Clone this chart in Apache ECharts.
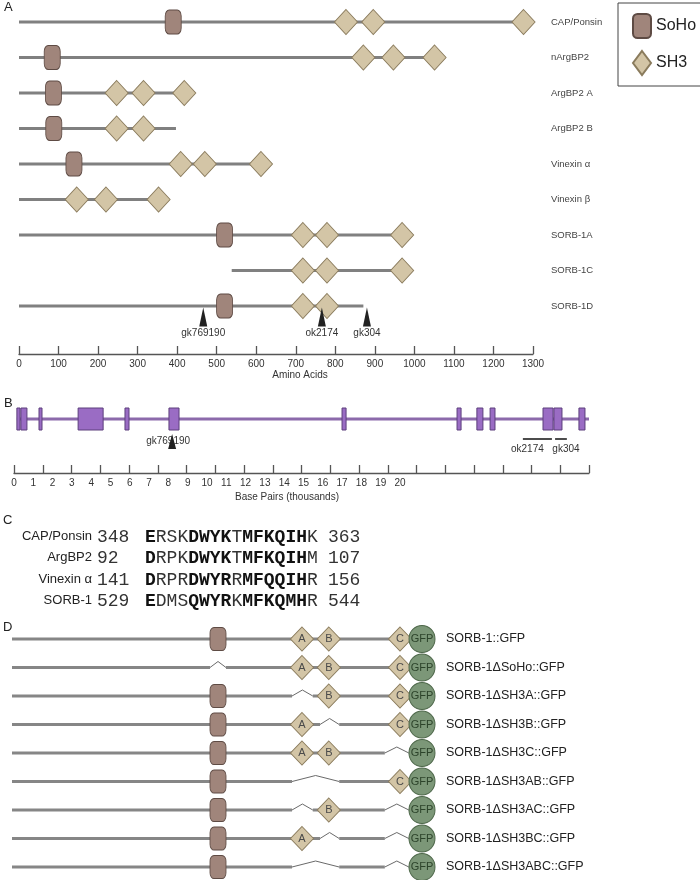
<!DOCTYPE html>
<html><head><meta charset="utf-8">
<script src="https://cdn.jsdelivr.net/npm/echarts@6/dist/echarts.min.js"></script>
<style>html,body{margin:0;padding:0;background:#fff}#c{width:700px;height:880px}</style>
</head><body><div id="c"></div>
<script>
// ---------- Panel A data (amino acids) ----------
const proteins = ['CAP/Ponsin','nArgBP2','ArgBP2 A','ArgBP2 B','Vinexin α','Vinexin β','SORB-1A','SORB-1C','SORB-1D'];
const proteinStart = [0, 0, 0, 0, 0, 0, 0, 538, 0];
const proteinEnd   = [1276, 1051, 418, 397, 612, 353, 980, 980, 871];
const sohoPos = [390, 84, 87, 88, 139, null, 520, null, 520];
const sh3Pos = [[827, 896, 1276], [871, 947, 1051], [247, 315, 418], [247, 315], [409, 470, 612], [146, 220, 353], [718, 779, 969], [718, 779, 969], [718, 779]];
const alleleNamesA = ['gk769190', 'ok2174', 'gk304'];
const alleleAA = [466, 766, 880];
const alleleRowA = 8;

// ---------- Panel B data (kb) ----------
const geneStart = 0.1, geneEnd = 20;
const exonStart = [0.10, 0.24, 0.87, 2.23, 3.86, 5.39, 11.41, 15.41, 16.10, 16.56, 18.40, 18.78, 19.65];
const exonEnd   = [0.21, 0.45, 0.97, 3.10, 4.00, 5.74, 11.55, 15.55, 16.31, 16.73, 18.75, 19.06, 19.86];
const kbTickMax = 20;
const kbLabelMax = 20;
const delNames = ['ok2174', 'gk304'];
const delStart = [17.70, 18.82];
const delEnd   = [18.71, 19.23];
const pointAlleleName = 'gk769190';
const pointAlleleKb = 5.5;

// ---------- Panel C data ----------
const cNames = ['CAP/Ponsin', 'ArgBP2', 'Vinexin α', 'SORB-1'];
const cFrom = ['348', '92', '141', '529'];
const cSeq = ['ERSKDWYKTMFKQIHK', 'DRPKDWYKTMFKQIHM', 'DRPRDWYRRMFQQIHR', 'EDMSQWYRKMFKQMHR'];
const cBold = ['1000111101111110', '1000111101111110', '1000111101111110', '1000111101111110'];
const cTo = ['363', '107', '156', '544'];

// ---------- Panel D data ----------
const dNames = ['SORB-1::GFP', 'SORB-1ΔSoHo::GFP', 'SORB-1ΔSH3A::GFP', 'SORB-1ΔSH3B::GFP', 'SORB-1ΔSH3C::GFP', 'SORB-1ΔSH3AB::GFP', 'SORB-1ΔSH3AC::GFP', 'SORB-1ΔSH3BC::GFP', 'SORB-1ΔSH3ABC::GFP'];
const dHasSoHo = [1, 0, 1, 1, 1, 1, 1, 1, 1];
const dHasA    = [1, 1, 0, 1, 1, 0, 0, 1, 0];
const dHasB    = [1, 1, 1, 0, 1, 0, 1, 0, 0];
const dHasC    = [1, 1, 1, 1, 0, 1, 0, 0, 0];
const dDomainX = [515, 725, 792, 970];      // SoHo, A, B, C
const dSpanStart = [495, 700, 770, 932];
const dSpanEnd   = [535, 752, 818, 992];
const dGfpX = 1025;
const dSH3Letters = ['A', 'B', 'C'];

// ---------- styling ----------
const SANS = '"Liberation Sans", Arial, sans-serif';
const MONO = '"Liberation Mono", "Courier New", monospace';
const SOHO_FILL = '#a0857b', SOHO_STROKE = '#5e4b44';
const SH3_FILL = '#d3c5a6', SH3_STROKE = '#8a7b5c';
const GFP_FILL = '#7c9778', GFP_STROKE = '#4d6749';
const PROT_LINE = '#808080';
const delLabelDx = [-10, 5];

const chart = echarts.init(document.getElementById('c'), null, {renderer: 'canvas', width: 700, height: 880});

function lineSeg(a, b, color, w) {
  return {type: 'line', shape: {x1: a[0], y1: a[1], x2: b[0], y2: b[1]}, style: {stroke: color, lineWidth: w}};
}

// Panel letters and panel C (alignment text)
const graphics = [];
const letterPos = [['A', 4, 1], ['B', 4, 397], ['C', 3, 514], ['D', 3, 621]];
letterPos.forEach(l => graphics.push({type: 'text', x: l[1], y: l[2], style: {text: l[0], fontSize: 13, fontFamily: SANS, fill: '#222'}}));
const cY0 = 536, cGap = 21.5;
function seqRich(seq, mask) {
  let out = '', i = 0;
  while (i < seq.length) {
    const b = mask[i]; let j = i;
    while (j < seq.length && mask[j] === b) j++;
    out += '{' + (b === '1' ? 'b' : 'n') + '|' + seq.slice(i, j) + '}';
    i = j;
  }
  return out;
}
cNames.forEach((n, i) => {
  const y = cY0 + i * cGap;
  graphics.push({type: 'text', x: 92, y: y, style: {text: n, align: 'right', verticalAlign: 'middle', fontSize: 13, fontFamily: SANS, fill: '#222'}});
  graphics.push({type: 'text', x: 97, y: y + 1, style: {text: cFrom[i], align: 'left', verticalAlign: 'middle', fontSize: 18, fontFamily: MONO, fill: '#333'}});
  graphics.push({type: 'text', x: 145, y: y + 1, style: {text: seqRich(cSeq[i], cBold[i]), align: 'left', verticalAlign: 'middle',
    rich: {b: {fontSize: 18, fontFamily: MONO, fontWeight: 'bold', fill: '#111', color: '#111'},
           n: {fontSize: 18, fontFamily: MONO, fill: '#333', color: '#333'}}}});
  graphics.push({type: 'text', x: 328, y: y + 1, style: {text: cTo[i], align: 'left', verticalAlign: 'middle', fontSize: 18, fontFamily: MONO, fill: '#333'}});
});

const noHover = {disabled: true};
const plain = v => String(v);

const option = {
  animation: false,
  backgroundColor: '#fff',
  textStyle: {fontFamily: SANS},
  legend: {
    data: ['SoHo', 'SH3'], orient: 'vertical', left: 618, top: 3,
    padding: [10, 40, 10, 14], itemWidth: 18, itemHeight: 24, itemGap: 11,
    borderColor: '#444', borderWidth: 1, selectedMode: false,
    textStyle: {fontSize: 16, color: '#222', fontFamily: SANS}
  },
  grid: [
    {left: 19, width: 514, top: 22, height: 284, outerBoundsMode: 'none'},
    {left: 14, width: 575, top: 399, height: 40, outerBoundsMode: 'none'},
    {left: 14, width: 386, top: 399, height: 40, outerBoundsMode: 'none'},
    {left: 12, width: 432, top: 639, height: 228, outerBoundsMode: 'none'}
  ],
  xAxis: [
    {gridIndex: 0, type: 'value', min: 0, max: 1300, interval: 100, offset: 48,
     axisLine: {show: true, onZero: false, lineStyle: {color: '#555', width: 1.3}},
     axisTick: {show: true, inside: true, length: 8, lineStyle: {color: '#555', width: 1.3}},
     axisLabel: {fontSize: 10, color: '#333', margin: 5, fontFamily: SANS, formatter: plain}, splitLine: {show: false},
     name: 'Amino Acids', nameLocation: 'middle', nameGap: 15,
     nameTextStyle: {fontSize: 10, color: '#333', padding: [0, 0, 0, 48], fontFamily: SANS}},
    {gridIndex: 1, type: 'value', min: 0, max: kbTickMax, interval: 1, offset: 34,
     axisLine: {show: true, onZero: false, lineStyle: {color: '#555', width: 1.3}},
     axisTick: {show: true, inside: true, length: 8, lineStyle: {color: '#555', width: 1.3}},
     axisLabel: {show: false}, splitLine: {show: false},
     name: 'Base Pairs (thousands)', nameLocation: 'middle', nameGap: 19,
     nameTextStyle: {fontSize: 10, color: '#333', padding: [0, 29, 0, 0], fontFamily: SANS}},
    {gridIndex: 2, type: 'value', min: 0, max: kbLabelMax, interval: 1, offset: 34,
     axisLine: {show: false, onZero: false}, axisTick: {show: false}, splitLine: {show: false},
     axisLabel: {fontSize: 10, color: '#333', margin: 5, fontFamily: SANS, formatter: plain}},
    {gridIndex: 3, type: 'value', min: 0, max: 1080, show: false, splitLine: {show: false}}
  ],
  yAxis: [
    {gridIndex: 0, type: 'category', data: proteins, inverse: true, boundaryGap: false, position: 'right',
     axisLine: {show: false}, axisTick: {show: false}, splitLine: {show: false},
     axisLabel: {margin: 18, fontSize: 9.5, color: '#444', fontFamily: SANS}},
    {gridIndex: 1, type: 'value', min: -1, max: 1, show: false},
    {gridIndex: 2, type: 'value', min: -1, max: 1, show: false},
    {gridIndex: 3, type: 'category', data: dNames, inverse: true, boundaryGap: false, position: 'right',
     axisLine: {show: false}, axisTick: {show: false}, splitLine: {show: false},
     axisLabel: {margin: 2, fontSize: 12.5, color: '#222', fontFamily: SANS}}
  ],
  graphic: graphics,
  series: [
    // ---- Panel A ----
    {type: 'custom', name: 'protLine', xAxisIndex: 0, yAxisIndex: 0, z: 1, silent: true, emphasis: noHover,
     encode: {x: [0, 1], y: 2},
     data: proteins.map((p, i) => [proteinStart[i], proteinEnd[i], i]),
     renderItem: (params, api) => {
       const a = api.coord([api.value(0), api.value(2)]);
       const b = api.coord([api.value(1), api.value(2)]);
       return lineSeg(a, b, PROT_LINE, 3);
     }},
    {type: 'scatter', name: 'SoHo', xAxisIndex: 0, yAxisIndex: 0, z: 3, symbol: 'roundRect', symbolSize: [16, 24],
     emphasis: noHover, itemStyle: {color: SOHO_FILL, borderColor: SOHO_STROKE, borderWidth: 1, opacity: 1},
     data: sohoPos.map((x, i) => x == null ? null : [x, i]).filter(d => d)},
    {type: 'scatter', name: 'SH3', xAxisIndex: 0, yAxisIndex: 0, z: 3, symbol: 'diamond', symbolSize: [23, 25],
     emphasis: noHover, itemStyle: {color: SH3_FILL, borderColor: SH3_STROKE, borderWidth: 1, opacity: 1},
     data: sh3Pos.flatMap((arr, i) => arr.map(x => [x, i]))},
    {type: 'scatter', name: 'alleleA', xAxisIndex: 0, yAxisIndex: 0, z: 3, symbol: 'triangle', symbolSize: [8, 19],
     symbolOffset: [0, 11], emphasis: noHover, itemStyle: {color: '#222', opacity: 1},
     label: {show: true, position: 'bottom', distance: 2, fontSize: 10, color: '#333', fontFamily: SANS,
             formatter: p => alleleNamesA[p.dataIndex]},
     data: alleleAA.map(x => [x, alleleRowA])},
    // ---- Panel B ----
    {type: 'custom', name: 'gene', xAxisIndex: 1, yAxisIndex: 1, z: 1, silent: true, emphasis: noHover,
     encode: {x: [0, 1]}, data: [[geneStart, geneEnd]],
     renderItem: (params, api) => lineSeg(api.coord([api.value(0), 0]), api.coord([api.value(1), 0]), '#8c6aab', 3)},
    {type: 'custom', name: 'exons', xAxisIndex: 1, yAxisIndex: 1, z: 2, silent: true, emphasis: noHover,
     encode: {x: [0, 1]}, data: exonStart.map((s, i) => [s, exonEnd[i]]),
     renderItem: (params, api) => {
       const a = api.coord([api.value(0), 0]), b = api.coord([api.value(1), 0]);
       return {type: 'rect', shape: {x: a[0], y: a[1] - 11, width: Math.max(b[0] - a[0], 3), height: 22},
               style: {fill: '#9a6cc4', stroke: '#5c3f7c', lineWidth: 1}};
     }},
    {type: 'custom', name: 'deletions', xAxisIndex: 1, yAxisIndex: 1, z: 2, silent: true, emphasis: noHover,
     encode: {x: [0, 1]}, data: delStart.map((s, i) => [s, delEnd[i]]),
     renderItem: (params, api) => {
       const a = api.coord([api.value(0), 0]), b = api.coord([api.value(1), 0]);
       const y = a[1] + 20;
       return {type: 'group', children: [
         lineSeg([a[0], y], [b[0], y], '#111', 1.5),
         {type: 'text', x: (a[0] + b[0]) / 2 + delLabelDx[params.dataIndex], y: y + 5,
          style: {text: delNames[params.dataIndex], align: 'center', verticalAlign: 'top', fontSize: 10, fontFamily: SANS, fill: '#333'}}
       ]};
     }},
    {type: 'custom', name: 'alleleB', xAxisIndex: 1, yAxisIndex: 1, z: 4, silent: true, emphasis: noHover,
     encode: {x: 0}, data: [[pointAlleleKb, 0]],
     renderItem: (params, api) => {
       const p = api.coord([api.value(0), 0]);
       return {type: 'group', children: [
         {type: 'text', x: p[0] - 4, y: p[1] + 22,
          style: {text: pointAlleleName, align: 'center', verticalAlign: 'middle', fontSize: 10, fontFamily: SANS, fill: '#333'}},
         {type: 'polygon', shape: {points: [[p[0], p[1] + 15], [p[0] + 4, p[1] + 30], [p[0] - 4, p[1] + 30]]},
          style: {fill: '#222'}}
       ]};
     }},
    // ---- Panel D ----
    {type: 'custom', name: 'dLines', xAxisIndex: 3, yAxisIndex: 3, z: 1, silent: true, emphasis: noHover,
     encode: {y: 1}, data: dNames.map((n, i) => [0, i]),
     renderItem: (params, api) => {
       const r = params.dataIndex;
       const present = [dHasSoHo[r], dHasA[r], dHasB[r], dHasC[r]];
       const gaps = [];
       for (let k = 0; k < 4; k++) {
         if (!present[k]) {
           if (k === 2 && !present[1]) gaps[gaps.length - 1].e = dSpanEnd[k];
           else gaps.push({s: dSpanStart[k], e: dSpanEnd[k]});
         }
       }
       const children = [];
       let pos = 0;
       const P = x => api.coord([x, r]);
       gaps.forEach(g => {
         children.push(lineSeg(P(pos), P(g.s), '#868686', 3));
         const a = P(g.s), b = P(g.e);
         children.push({type: 'polyline', shape: {points: [a, [(a[0] + b[0]) / 2, a[1] - 6], b]},
                        style: {stroke: '#6a6a6a', lineWidth: 1, fill: null}});
         pos = g.e;
       });
       if (pos < dGfpX) children.push(lineSeg(P(pos), P(dGfpX), '#868686', 3));
       return {type: 'group', children};
     }},
    {type: 'scatter', name: 'SoHoD', xAxisIndex: 3, yAxisIndex: 3, z: 3, symbol: 'roundRect', symbolSize: [16, 23],
     emphasis: noHover, itemStyle: {color: SOHO_FILL, borderColor: SOHO_STROKE, borderWidth: 1, opacity: 1},
     data: dNames.map((n, i) => dHasSoHo[i] ? [dDomainX[0], i] : null).filter(d => d)},
    {type: 'scatter', name: 'SH3D', xAxisIndex: 3, yAxisIndex: 3, z: 3, symbol: 'diamond', symbolSize: [23, 24],
     emphasis: noHover, itemStyle: {color: SH3_FILL, borderColor: SH3_STROKE, borderWidth: 1, opacity: 1},
     label: {show: true, position: 'inside', formatter: '{b}', fontSize: 11, color: '#4a4a4a', fontFamily: SANS},
     data: dNames.flatMap((n, i) => {
       const out = [];
       [dHasA, dHasB, dHasC].forEach((arr, k) => { if (arr[i]) out.push({name: dSH3Letters[k], value: [dDomainX[k + 1], i]}); });
       return out;
     })},
    {type: 'scatter', name: 'GFP', xAxisIndex: 3, yAxisIndex: 3, z: 3, symbol: 'circle', symbolSize: [26, 27],
     emphasis: noHover, itemStyle: {color: GFP_FILL, borderColor: GFP_STROKE, borderWidth: 1, opacity: 1},
     label: {show: true, position: 'inside', formatter: 'GFP', fontSize: 11, color: '#2c432a', fontFamily: SANS},
     data: dNames.map((n, i) => [dGfpX, i])}
  ]
};
chart.setOption(option);
</script>
</body></html>
